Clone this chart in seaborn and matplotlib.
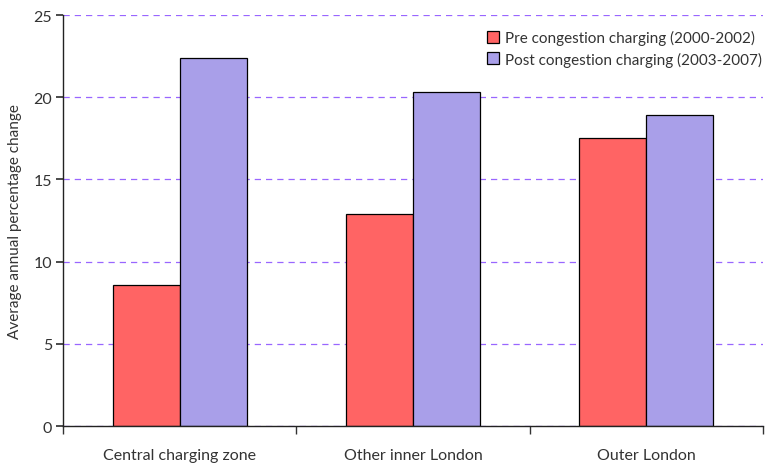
import matplotlib
matplotlib.use("Agg")
import matplotlib.pyplot as plt
import seaborn as sns
import pandas as pd

# data
areas = ["Central charging zone", "Other inner London", "Outer London"]
periods = ["Pre congestion charging (2000-2002)", "Post congestion charging (2003-2007)"]
pre_values = [8.6, 12.9, 17.5]
post_values = [22.4, 20.3, 18.9]
y_ticks = [0, 5, 10, 15, 20, 25]

df = pd.DataFrame({
    "area": areas * 2,
    "period": [periods[0]] * 3 + [periods[1]] * 3,
    "value": pre_values + post_values,
})

sns.set_theme(style="white")
plt.rcParams["font.family"] = ["Lato", "DejaVu Sans"]
text_col = "#333333"

fig = plt.figure(figsize=(7.71, 4.64), dpi=100)
ax = fig.add_axes([0.0817, 0.0797, 0.9079, 0.8858])

ax.set_axisbelow(True)
ax.yaxis.grid(True, color="#9966ff", linestyle=(0, (5, 4)), linewidth=0.9)

sns.barplot(data=df, x="area", y="value", hue="period", hue_order=periods,
            palette=["#ff6464", "#a99fe9"], saturation=1, width=0.574, gap=0,
            edgecolor="black", linewidth=0.9, ax=ax)

ax.set_ylim(0, 25)
ax.set_xlim(-0.5, 2.5)
ax.set_yticks(y_ticks)
ax.set_yticklabels([str(t) for t in y_ticks], fontsize=11.5, color=text_col)
ax.set_xticks(range(len(areas)))
ax.set_xticklabels(areas, fontsize=11.5, color=text_col)
ax.tick_params(axis="x", which="major", length=0, pad=16)
ax.set_xticks([-0.5, 0.5, 1.5, 2.5], minor=True)
ax.tick_params(axis="x", which="minor", length=6, color="#333333", direction="out", bottom=True)
ax.tick_params(axis="y", length=5, color="#333333", direction="out", left=True, pad=3)

ax.set_xlabel("")
ax.set_ylabel("Average annual percentage change", fontsize=11, color=text_col, labelpad=8)

for side in ["top", "right"]:
    ax.spines[side].set_visible(False)
for side in ["left", "bottom"]:
    ax.spines[side].set_color("#222222")
    ax.spines[side].set_linewidth(1.0)

leg = ax.legend(loc="upper right", bbox_to_anchor=(1.012, 0.985), frameon=True,
                fontsize=11, handlelength=0.8, handleheight=0.8, handletextpad=0.4,
                labelspacing=0.4, borderaxespad=0.2)
leg.get_frame().set_facecolor("white")
leg.get_frame().set_edgecolor("white")
for t in leg.get_texts():
    t.set_color(text_col)

fig.savefig("out.png", dpi=100)
